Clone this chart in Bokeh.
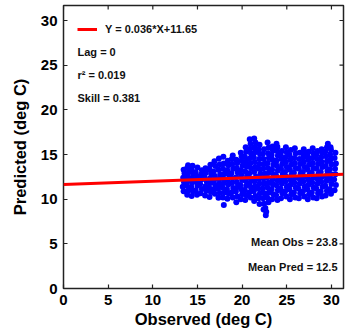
import math
from bokeh.plotting import figure
from bokeh.models import Range1d, FixedTicker, Label, Legend, LegendItem
from bokeh.embed import file_html
from bokeh.resources import INLINE

# ---- data ----
tick_values = [0, 5, 10, 15, 20, 25, 30]
x_max = 31.35
y_max = 31.68

fit_slope = 0.036
fit_intercept = 11.65
stats_labels = ["Lag = 0", "r\u00b2 = 0.019", "Skill = 0.381"]
mean_labels = ["Mean Obs = 23.8", "Mean Pred = 12.5"]

observed = [
    13.45, 13.35, 13.5, 13.4, 13.55, 13.45,
    13.85, 14.0, 13.8, 13.95, 13.9, 14.05, 13.85, 13.95,
    14.35, 14.5, 14.3, 14.45, 14.4, 14.55, 14.35, 14.45,
    14.95, 14.8, 15.0, 14.85, 14.95, 14.8, 15.0,
    15.35, 15.5, 15.3, 15.45, 15.4, 15.5,
    15.85, 16.0, 15.9, 16.05, 15.8, 15.95, 15.9,
    16.35, 16.5, 16.3, 16.45, 16.4, 16.55, 16.35, 16.45,
    16.95, 16.8, 17.0, 16.85, 16.95, 16.8, 17.0, 16.9,
    17.35, 17.5, 17.3, 17.45, 17.4, 17.55, 17.35, 17.5, 17.4,
    17.95, 17.85, 18.0, 17.8, 17.95, 17.9, 18.05, 17.85, 17.95, 17.9,
    18.35, 18.5, 18.3, 18.45, 18.4, 18.55, 18.35, 18.45, 18.4,
    18.95, 18.8, 19.0, 18.85, 18.95, 18.8, 19.0, 18.9, 18.85, 18.95,
    19.35, 19.45, 19.3, 19.5, 19.4, 19.35, 19.5, 19.4, 19.45, 19.35,
    19.85, 20.0, 19.9, 19.8, 20.0, 19.9, 19.85, 20.05, 19.9, 19.95, 19.85,
    20.35, 20.5, 20.3, 20.45, 20.4, 20.55, 20.35, 20.5, 20.4, 20.3, 20.45, 20.4,
    20.95, 20.8, 21.0, 20.85, 20.95, 20.8, 21.0, 20.9, 20.85, 21.0, 20.9, 20.95, 20.85,
    21.35, 21.5, 21.3, 21.45, 21.4, 21.55, 21.35, 21.5, 21.4, 21.3, 21.45, 21.4, 21.5, 21.35,
    21.95, 21.85, 22.0, 21.8, 21.95, 21.9, 22.05, 21.85, 21.95, 21.9, 22.0, 21.85, 21.95,
    22.4, 22.45, 22.35, 22.5, 22.3, 22.45, 22.4, 22.55, 22.35, 22.5, 22.4, 22.3, 22.45,
    22.65, 22.7, 22.6,
    22.95, 22.8, 23.0, 22.85, 22.95, 22.8, 23.0, 22.9, 22.85, 23.0, 22.9, 22.95, 22.85,
    23.35, 23.5, 23.3, 23.45, 23.4, 23.55, 23.35, 23.5, 23.4, 23.3, 23.45, 23.4,
    23.95, 23.8, 24.0, 23.85, 23.95, 23.8, 24.0, 23.9, 23.85, 24.0, 23.9, 23.95, 23.85,
    24.35, 24.5, 24.3, 24.45, 24.4, 24.55, 24.35, 24.5, 24.4, 24.3, 24.45,
    24.95, 24.8, 25.0, 24.85, 24.95, 24.8, 25.0, 24.9, 24.85, 25.0, 24.9,
    25.35, 25.5, 25.3, 25.45, 25.4, 25.55, 25.35, 25.5, 25.4, 25.3, 25.45,
    25.95, 25.8, 26.0, 25.85, 25.95, 25.8, 26.0, 25.9, 25.85, 26.0, 25.9,
    26.35, 26.5, 26.3, 26.45, 26.4, 26.55, 26.35, 26.5, 26.4, 26.45,
    26.95, 26.8, 27.0, 26.85, 26.95, 26.8, 27.0, 26.9, 26.85, 26.95, 26.9,
    27.35, 27.5, 27.3, 27.45, 27.4, 27.55, 27.35, 27.5, 27.4, 27.3, 27.45,
    27.95, 27.8, 28.0, 27.85, 27.95, 27.8, 28.0, 27.9, 27.85, 28.0, 27.9,
    28.35, 28.5, 28.3, 28.45, 28.4, 28.55, 28.35, 28.5, 28.4, 28.3, 28.45,
    28.95, 28.8, 29.0, 28.85, 28.95, 28.8, 29.0, 28.9, 28.85, 28.95, 28.9,
    29.35, 29.5, 29.3, 29.45, 29.4, 29.55, 29.35, 29.5, 29.4, 29.3, 29.5, 29.6,
    29.95, 29.8, 30.0, 29.85, 29.95, 29.8, 30.0, 29.9, 29.85, 29.95, 29.9,
    30.35, 30.5, 30.3, 30.45, 30.4, 30.5, 30.35, 30.45,
]
predicted = [
    10.9, 11.4, 11.9, 12.4, 12.9, 13.3,
    10.5, 11.0, 11.5, 12.0, 12.5, 13.0, 13.5, 13.8,
    10.35, 10.9, 11.4, 11.9, 12.4, 12.9, 13.3, 13.75,
    10.5, 11.0, 11.5, 12.0, 12.5, 13.0, 13.55,
    10.65, 11.15, 11.7, 12.2, 12.75, 13.25,
    10.4, 10.95, 11.45, 11.95, 12.45, 12.95, 13.45,
    10.25, 10.8, 11.3, 11.8, 12.3, 12.8, 13.35, 13.85,
    10.6, 11.1, 11.6, 12.1, 12.6, 13.1, 13.7, 14.25,
    10.15, 10.7, 11.2, 11.75, 12.25, 12.8, 13.3, 13.9, 14.55,
    9.35, 10.2, 10.75, 11.3, 11.8, 12.3, 12.85, 13.4, 14.0, 14.75,
    10.05, 10.6, 11.1, 11.65, 12.2, 12.7, 13.25, 13.8, 14.3,
    10.2, 10.75, 11.25, 11.8, 12.35, 12.9, 13.4, 13.95, 14.5, 14.9,
    9.65, 10.3, 10.85, 11.35, 11.9, 12.45, 13.0, 13.5, 14.05, 14.4,
    10.0, 10.55, 11.1, 11.6, 12.15, 12.7, 13.25, 13.75, 14.3, 14.8, 15.2,
    9.9, 10.45, 11.0, 11.5, 12.05, 12.6, 13.1, 13.65, 14.2, 14.75, 15.3, 15.8,
    10.2, 10.75, 11.3, 11.8, 12.35, 12.9, 13.45, 14.0, 14.55, 15.1, 15.65, 16.2, 16.7,
    9.8, 10.35, 10.9, 11.45, 12.0, 12.5, 13.05, 13.6, 14.15, 14.7, 15.25, 15.8, 16.35, 16.8,
    9.45, 10.1, 10.65, 11.2, 11.75, 12.3, 12.85, 13.4, 13.95, 14.5, 15.05, 15.6, 16.1,
    8.85, 9.5, 10.1, 10.65, 11.2, 11.75, 12.3, 12.85, 13.4, 13.95, 14.5, 15.05, 15.6,
    8.2, 8.6, 9.0,
    9.65, 10.2, 10.75, 11.3, 11.85, 12.4, 12.95, 13.5, 14.05, 14.6, 15.15, 15.75, 16.35,
    10.0, 10.55, 11.1, 11.65, 12.2, 12.75, 13.3, 13.85, 14.4, 14.95, 15.45, 15.9,
    9.9, 10.45, 11.0, 11.55, 12.1, 12.65, 13.2, 13.75, 14.3, 14.85, 15.4, 15.85, 16.2,
    10.1, 10.65, 11.2, 11.75, 12.3, 12.85, 13.4, 13.95, 14.5, 15.0, 15.4,
    10.3, 10.85, 11.4, 11.95, 12.5, 13.05, 13.6, 14.15, 14.7, 15.25, 15.8,
    10.0, 10.55, 11.1, 11.65, 12.2, 12.75, 13.3, 13.85, 14.4, 14.95, 15.5,
    10.2, 10.75, 11.3, 11.85, 12.4, 12.95, 13.5, 14.05, 14.6, 15.15, 15.7,
    10.1, 10.65, 11.2, 11.75, 12.3, 12.85, 13.4, 13.95, 14.5, 15.2,
    10.3, 10.85, 11.4, 11.95, 12.5, 13.05, 13.6, 14.15, 14.7, 15.2, 15.6,
    10.0, 10.55, 11.1, 11.65, 12.2, 12.75, 13.3, 13.85, 14.4, 14.9, 15.3,
    10.2, 10.75, 11.3, 11.85, 12.4, 12.95, 13.5, 14.05, 14.6, 15.15, 15.7,
    10.1, 10.65, 11.2, 11.75, 12.3, 12.85, 13.4, 13.95, 14.5, 15.0, 15.4,
    10.3, 10.85, 11.4, 11.95, 12.5, 13.05, 13.6, 14.15, 14.7, 15.2, 15.6,
    10.4, 10.95, 11.5, 12.05, 12.6, 13.15, 13.7, 14.25, 14.8, 15.35, 15.8, 16.2,
    10.6, 11.15, 11.7, 12.25, 12.8, 13.35, 13.9, 14.45, 15.0, 15.5, 15.8,
    11.0, 11.6, 12.2, 12.8, 13.4, 14.0, 14.6, 15.2,
]

FONT = "Liberation Sans"

p = figure(
    width=350, height=333,
    x_range=Range1d(0, x_max), y_range=Range1d(0, y_max),
    output_backend="svg", toolbar_location=None,
    min_border_left=63, min_border_right=7, min_border_top=5, min_border_bottom=45,
    background_fill_color="white", border_fill_color="white",
)
p.xgrid.visible = False
p.ygrid.visible = False
p.outline_line_color = "#222222"
p.outline_line_width = 1.5
p.outline_line_alpha = 1.0

ticker = FixedTicker(ticks=tick_values)

for ax in (p.xaxis[0], p.yaxis[0]):
    ax.ticker = ticker
    ax.axis_line_color = None
    ax.major_tick_in = 4
    ax.major_tick_out = 0
    ax.major_tick_line_color = "#222222"
    ax.major_tick_line_width = 1.2
    ax.minor_tick_line_color = None
    ax.major_label_text_font = FONT
    ax.major_label_text_font_style = "bold"
    ax.major_label_text_font_size = "15px"
    ax.major_label_text_color = "black"
    ax.major_label_standoff = 6
    ax.axis_label_text_font = FONT
    ax.axis_label_text_font_style = "bold"
    ax.axis_label_text_font_size = "16.5px"
    ax.axis_label_text_color = "black"

p.xaxis[0].axis_label = "Observed (deg C)"
p.xaxis[0].axis_label_standoff = 2
p.yaxis[0].axis_label = "Predicted (deg C)"
p.yaxis[0].axis_label_standoff = 9

# inward ticks on the right and top edges of the box
p.ray(x=[x_max] * len(tick_values), y=tick_values, length=4,
      length_units="screen", angle=math.pi, line_color="#222222", line_width=1.2)
p.ray(x=tick_values, y=[y_max] * len(tick_values), length=4,
      length_units="screen", angle=-math.pi / 2, line_color="#222222", line_width=1.2)

p.scatter(observed, predicted, size=6, marker="circle",
          fill_color="#0000ff", line_color=None)

fit_x = [0, x_max]
fit_y = [fit_intercept + fit_slope * v for v in fit_x]
fit_line = p.line(fit_x, fit_y, line_color="#ff0000", line_width=3)

legend = Legend(
    items=[LegendItem(label="Y = %.3f*X+%.2f" % (fit_slope, fit_intercept), renderers=[fit_line])],
    location="top_left", margin=14, padding=0, spacing=0,
    glyph_width=20, glyph_height=20, label_standoff=8,
    border_line_color=None, background_fill_alpha=0,
    label_text_font=FONT, label_text_font_style="bold",
    label_text_font_size="11px", label_text_color="#111111",
    label_height=20,
)
p.add_layout(legend)

stat_y = [26.42, 23.95, 21.38]
for txt, yy in zip(stats_labels, stat_y):
    p.add_layout(Label(x=1.57, y=yy, text=txt, text_font=FONT,
                       text_font_style="bold", text_font_size="11px",
                       text_color="#111111", text_baseline="middle"))

mean_y = [5.15, 2.46]
for txt, yy in zip(mean_labels, mean_y):
    p.add_layout(Label(x=30.68, y=yy, text=txt, text_font=FONT,
                       text_font_style="bold", text_font_size="11px",
                       text_color="#111111", text_baseline="middle",
                       text_align="right"))

open("out.html", "w").write(file_html(p, INLINE))
